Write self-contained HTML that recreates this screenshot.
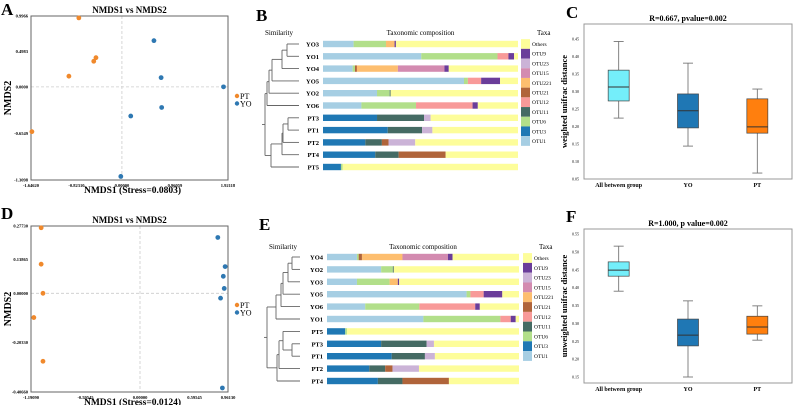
<!DOCTYPE html>
<html><head><meta charset="utf-8">
<style>
html,body{margin:0;padding:0;background:#fff;}
svg{display:block;font-family:"Liberation Serif",serif;}
</style></head>
<body>
<svg id="fig" width="793" height="405" viewBox="0 0 793 405" xmlns="http://www.w3.org/2000/svg">
<g font-weight="bold" font-size="17">
<text x="1" y="15">A</text>
<text x="256" y="21">B</text>
<text x="566" y="18">C</text>
<text x="1" y="219">D</text>
<text x="259" y="230">E</text>
<text x="566" y="222">F</text>
</g>
</svg>
<script>
// ---------- NMDS data ----------
const aPTx=[-0.78,-0.47,-0.51,-0.96,-1.63];
const aPTy=[0.97,0.41,0.36,0.15,-0.63];
const aYOx=[0.58,0.71,1.84,0.72,0.16,-0.02];
const aYOy=[0.65,0.13,0,-0.29,-0.41,-1.26];
const aXticks=[-1.64620,-0.82310,0,0.96059,1.92118];
const aXlabels=["-1.64620","-0.82310","0.00000","0.96059","1.92118"];
const aYticks=[0.9966,0.4983,0,-0.6549,-1.3098];
const aYlabels=["0.9966","0.4983","0.0000","-0.6549","-1.3098"];
const dPTx=[-1.08,-1.08,-1.06,-1.16,-1.06];
const dPTy=[0.27,0.12,0,-0.10,-0.28];
const dYOx=[0.85,0.93,0.91,0.92,0.88,0.90];
const dYOy=[0.23,0.11,0.07,0.02,-0.02,-0.39];
const dXticks=[-1.19090,-0.59545,0,0.59545,0.96130];
const dXlabels=["-1.19090","-0.59545","0.00000","0.59545","0.96130"];
const dYticks=[0.27730,0.13865,0,-0.20330,-0.40660];
const dYlabels=["0.27730","0.13865","0.00000","-0.20330","-0.40660"];
// ---------- taxonomic composition ----------
const taxa=["OTU1","OTU3","OTU6","OTU11","OTU12","OTU21","OTU221","OTU15","OTU23","OTU9","Others"];
const legendOrder=["Others","OTU9","OTU23","OTU15","OTU221","OTU21","OTU12","OTU11","OTU6","OTU3","OTU1"];
const bSamples=["YO3","YO1","YO4","YO5","YO2","YO6","PT3","PT1","PT2","PT4","PT5"];
const bValues=[
[0.157,0,0.166,0,0,0,0.044,0,0,0.007],
[0.504,0,0.391,0,0.056,0,0,0,0,0.029],
[0.152,0,0.012,0,0,0.01,0.21,0.239,0,0.022],
[0.723,0,0.02,0,0.068,0,0,0,0,0.097],
[0.277,0,0.065,0.005,0,0,0,0,0,0],
[0.197,0,0.28,0,0.29,0,0,0,0,0.027],
[0,0.277,0,0.241,0,0,0,0,0.034,0],
[0,0.332,0,0.176,0,0,0,0,0.053,0],
[0,0.217,0,0.085,0,0.034,0,0,0.137,0],
[0,0.268,0,0.12,0,0.241,0,0,0,0],
[0,0.092,0.009,0,0,0,0,0,0,0]];
const eSamples=["YO4","YO2","YO3","YO5","YO6","YO1","PT5","PT3","PT1","PT2","PT4"];
const eValues=[
[0.156,0,0.009,0,0,0.017,0.211,0.237,0,0.024],
[0.282,0,0.061,0.005,0,0,0,0,0,0],
[0.156,0,0.17,0,0,0,0.043,0,0,0.007],
[0.727,0,0.02,0,0.069,0,0,0,0,0.097],
[0.199,0,0.282,0,0.291,0,0,0,0,0.024],
[0.502,0,0.401,0,0.054,0,0,0,0,0.026],
[0,0.095,0.009,0,0,0,0,0,0,0],
[0,0.282,0,0.237,0,0,0,0,0.038,0],
[0,0.337,0,0.173,0,0,0,0,0.052,0],
[0,0.22,0,0.083,0,0.038,0,0,0.138,0],
[0,0.265,0,0.128,0,0.242,0,0,0,0]];
// dendrograms: [left, right, nodeX]; leaves are row indices
const bTree=[[[[[[0,1,287],2,282],3,272],4,269],5,267],[[[[6,7,288],8,283],9,282],10,271],265];
const eTree=[[[[[[0,1,292],2,288],3,283],4,281],5,276],[[[[6,[7,8,292],283],9,279],10,277]],267];
// ---------- box plots ----------
const boxCats=["All between group","YO","PT"];
const cWhiskLo=[0.224,0.144,0.067], cQ1=[0.273,0.196,0.181], cMed=[0.313,0.245,0.199], cQ3=[0.361,0.293,0.279], cWhiskHi=[0.443,0.381,0.307];
const cTicks=[0.05,0.10,0.15,0.20,0.25,0.30,0.35,0.40,0.45];
const fWhiskLo=[0.39,0.15,0.253], fQ1=[0.432,0.237,0.27], fMed=[0.449,0.267,0.29], fQ3=[0.472,0.312,0.32], fWhiskHi=[0.516,0.363,0.349];
const fTicks=[0.15,0.20,0.25,0.30,0.35,0.40,0.45,0.50,0.55];

const NS="http://www.w3.org/2000/svg";
const svg=document.getElementById('fig');
function mk(tag,attrs,parent,text){const e=document.createElementNS(NS,tag);for(const k in attrs)e.setAttribute(k,attrs[k]);if(text!==undefined)e.textContent=text;(parent||svg).appendChild(e);return e;}
function lin(d0,d1,r0,r1){return v=>r0+(v-d0)*(r1-r0)/(d1-d0);}

const ORANGE="#f0892c", BLUE="#2e78b2";
function nmds(cfg){
  const g=mk('g',{});
  
  
  const {x0,x1,y0,y1}=cfg;
  const sx=lin(cfg.xd[0],cfg.xd[1],x0,x1), sy=lin(cfg.yd[0],cfg.yd[1],y1,y0);
  mk('line',{x1:sx(0),x2:sx(0),y1:y0,y2:y1,stroke:'#ccc','stroke-dasharray':'3,2','stroke-width':0.8},g);
  mk('line',{x1:x0,x2:x1,y1:sy(0),y2:sy(0),stroke:'#ccc','stroke-dasharray':'3,2','stroke-width':0.8},g);
  const fr=mk('rect',{x:x0,y:y0,width:x1-x0,height:y1-y0,fill:'none',stroke:'#666','stroke-width':1},g);
  
  
  cfg.xt.forEach((v,i)=>{const t=mk('text',{x:sx(v),y:y1+7,'font-size':4.5,'font-weight':'bold','text-anchor':'middle'},g,cfg.xl[i]);
    });
  cfg.yt.forEach((v,i)=>{const t=mk('text',{x:x0-3,y:sy(v)+1.5,'font-size':4.5,'font-weight':'bold','text-anchor':'end'},g,cfg.yl[i]);
    });
  const series=[[cfg.ptx,cfg.pty,ORANGE,'pt-point'],[cfg.yox,cfg.yoy,BLUE,'yo-point']];
  series.forEach(s=>{s[0].forEach((v,i)=>{const c=mk('circle',{cx:sx(v),cy:sy(s[1][i]),r:2.4,fill:s[2]},g);
    });});
  const t=mk('text',{x:(x0+x1)/2,y:y0-3,'font-size':9,'font-weight':'bold','text-anchor':'middle'},g,'NMDS1 vs NMDS2');
  
  const xt=mk('text',{x:(x0+x1)/2+3,y:y1+13,'font-size':9.5,'font-weight':'bold','text-anchor':'middle'},g,cfg.xtitle);
  
  const yt=mk('text',{x:0,y:0,'font-size':10,'font-weight':'bold','text-anchor':'middle',transform:`translate(11,${(y0+y1)/2}) rotate(-90)`},g,'NMDS2');
  
  [['PT',ORANGE,0],['YO',BLUE,1]].forEach(l=>{
    const lg=mk('g',{},g);
    mk('circle',{cx:x1+9,cy:cfg.legY+l[2]*7.5,r:2.2,fill:l[1]},lg);
    mk('text',{x:x1+12,y:cfg.legY+l[2]*7.5+3,'font-size':8},lg,l[0]);
  });
}
nmds({name:'nmds-plot-a',x0:31,x1:228,y0:16,y1:180,xd:[-1.6462,1.92118],yd:[-1.3098,0.9966],
  xt:aXticks,xl:aXlabels,yt:aYticks,yl:aYlabels,ptx:aPTx,pty:aPTy,yox:aYOx,yoy:aYOy,xtitle:'NMDS1 (Stress=0.0803)',legY:96});
nmds({name:'nmds-plot-d',x0:31,x1:228,y0:226,y1:392,xd:[-1.1909,0.9613],yd:[-0.4066,0.2773],
  xt:dXticks,xl:dXlabels,yt:dYticks,yl:dYlabels,ptx:dPTx,pty:dPTy,yox:dYOx,yoy:dYOy,xtitle:'NMDS1 (Stress=0.0124)',legY:305});

const taxaColors={OTU1:'#a6cee3',OTU3:'#1f78b4',OTU6:'#b2df8a',OTU11:'#456b64',OTU12:'#f89a99',OTU21:'#b0643a',OTU221:'#fdbe6f',OTU15:'#d38bb0',OTU23:'#cbb3d7',OTU9:'#6a3d9a',Others:'#fdfd9a'};
function compo(cfg){
  const g=mk('g',{});
  
  const rowY=i=>cfg.r0+i*cfg.dr;
  const sx=lin(0,1,cfg.bx0,cfg.bx1);
  let t=mk('text',{x:cfg.simX,y:cfg.hy,'font-size':7},g,'Similarity');
  t=mk('text',{x:(cfg.bx0+cfg.bx1)/2,y:cfg.hy,'font-size':7,'text-anchor':'middle'},g,'Taxonomic composition');
  t=mk('text',{x:cfg.lx0+16,y:cfg.hy,'font-size':7},g,'Taxa');
  cfg.samples.forEach((s,i)=>{
    const y=rowY(i);
    const lb=mk('text',{x:cfg.bx0-4,y:y+2.5,'font-size':6.5,'font-weight':'bold','text-anchor':'end'},g,s);
    
    let acc=0;
    cfg.values[i].forEach((v,j)=>{ if(v<=0)return;
      const r=mk('rect',{x:sx(acc),y:y-3.2,width:sx(acc+v)-sx(acc),height:6.4,fill:taxaColors[taxa[j]]},g);
      acc+=v;});
    const r=mk('rect',{x:sx(acc),y:y-3.2,width:sx(1)-sx(acc),height:6.4,fill:taxaColors.Others},g);
    
  });
  legendOrder.forEach((n,i)=>{
    const lg=mk('g',{},g);
    const y=cfg.ly0+i*cfg.ldy;
    mk('rect',{x:cfg.lx0,y:y-cfg.ldy/2,width:9,height:cfg.ldy,fill:taxaColors[n]},lg);
    mk('text',{x:cfg.lx0+11,y:y+2,'font-size':5.5},lg,n);
  });
  const tg=mk('g',{stroke:'#666','stroke-width':0.9,fill:'none'},g);
  
  function draw(n){ if(typeof n==='number')return {x:cfg.leafX,y:rowY(n)};
    if(n.length===1)return draw(n[0]);
    const a=draw(n[0]),b=draw(n[1]),x=n[2];
    mk('line',{x1:x,x2:a.x,y1:a.y,y2:a.y},tg);mk('line',{x1:x,x2:b.x,y1:b.y,y2:b.y},tg);
    mk('line',{x1:x,x2:x,y1:a.y,y2:b.y},tg);return {x:x,y:(a.y+b.y)/2};}
  const root=draw(cfg.tree);
  mk('line',{x1:root.x-3,x2:root.x,y1:root.y,y2:root.y},tg);
}
compo({name:'composition-b',samples:bSamples,values:bValues,tree:bTree,r0:44,dr:12.3,bx0:323,bx1:518,leafX:299,simX:265,hy:35,lx0:521,ly0:44,ldy:9.7});
compo({name:'composition-e',samples:eSamples,values:eValues,tree:eTree,r0:257,dr:12.4,bx0:327,bx1:519,leafX:300,simX:269,hy:249,lx0:523,ly0:258,ldy:9.8});

const boxColors=['#74eefa','#1f77b4','#ff7f0e'];
function boxplot(cfg){
  const g=mk('g',{});
  const {x0,x1,y0,y1}=cfg;
  const sy=lin(cfg.yd[0],cfg.yd[1],cfg.yp[0],cfg.yp[1]);
  const sx=i=>x0+(i+0.5)*(x1-x0)/boxCats.length;
  mk('rect',{x:x0,y:y0,width:x1-x0,height:y1-y0,fill:'none',stroke:'#999','stroke-width':1},g);
  cfg.ticks.forEach(v=>{const t=mk('text',{x:x0-5,y:sy(v)+1.5,'font-size':4,'text-anchor':'end'},g,v.toFixed(2));
    });
  boxCats.forEach((c,i)=>{
    const x=sx(i),w=21;
    const bg=mk('g',{},g);
    mk('line',{x1:x,x2:x,y1:sy(cfg.hi[i]),y2:sy(cfg.q3[i]),stroke:'#777','stroke-width':0.9},bg);
    mk('line',{x1:x,x2:x,y1:sy(cfg.q1[i]),y2:sy(cfg.lo[i]),stroke:'#777','stroke-width':0.9},bg);
    mk('line',{x1:x-5,x2:x+5,y1:sy(cfg.hi[i]),y2:sy(cfg.hi[i]),stroke:'#777','stroke-width':0.9},bg);
    mk('line',{x1:x-5,x2:x+5,y1:sy(cfg.lo[i]),y2:sy(cfg.lo[i]),stroke:'#777','stroke-width':0.9},bg);
    mk('rect',{x:x-w/2,y:sy(cfg.q3[i]),width:w,height:sy(cfg.q1[i])-sy(cfg.q3[i]),fill:boxColors[i],stroke:'#444','stroke-width':0.7},bg);
    mk('line',{x1:x-w/2,x2:x+w/2,y1:sy(cfg.med[i]),y2:sy(cfg.med[i]),stroke:'#333','stroke-width':1},bg);
    const t=mk('text',{x:x,y:y1+8,'font-size':6,'font-weight':'bold','text-anchor':'middle'},g,c);
    
  });
  let t=mk('text',{x:(x0+x1)/2,y:y0-3,'font-size':8,'font-weight':'bold','text-anchor':'middle'},g,cfg.title);
  
  t=mk('text',{x:0,y:0,'font-size':8.5,'font-weight':'bold','text-anchor':'middle',transform:`translate(567,${(y0+y1)/2}) rotate(-90)`},g,cfg.ytitle);
  
}
boxplot({name:'boxplot-c',x0:584,x1:792,y0:24,y1:179,yd:[0.05,0.45],yp:[179,39],ticks:cTicks,lo:cWhiskLo,q1:cQ1,med:cMed,q3:cQ3,hi:cWhiskHi,title:'R=0.667, pvalue=0.002',ytitle:'weighted unifrac distance'});
boxplot({name:'boxplot-f',x0:584,x1:792,y0:229,y1:383,yd:[0.15,0.55],yp:[377,234],ticks:fTicks,lo:fWhiskLo,q1:fQ1,med:fMed,q3:fQ3,hi:fWhiskHi,title:'R=1.000, p value=0.002',ytitle:'unweighted unifrac distance'});
</script>
</body></html>
